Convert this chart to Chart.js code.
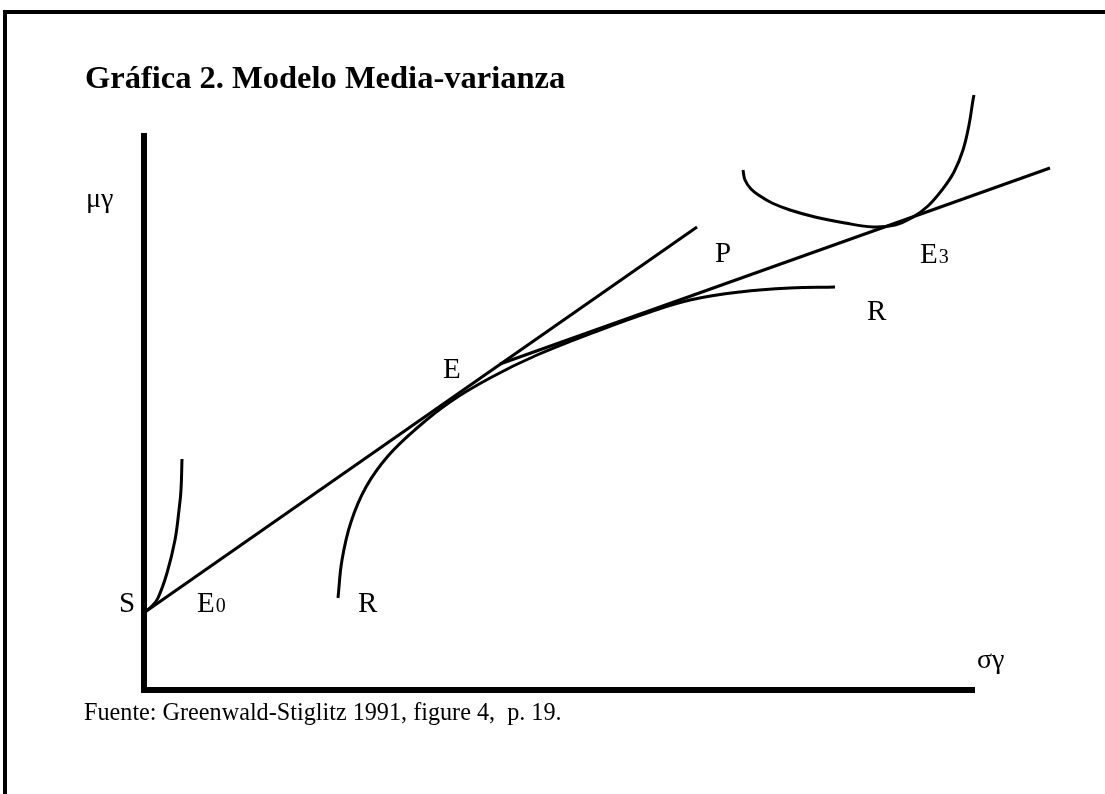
<!DOCTYPE html>
<html>
<head>
<meta charset="utf-8">
<title>Gráfica 2. Modelo Media-varianza</title>
<script src="https://cdn.jsdelivr.net/npm/chart.js@4.4.0/dist/chart.umd.min.js"></script>
<style>
  html, body { margin: 0; padding: 0; background: #fff; }
  body { width: 1105px; height: 794px; position: relative; overflow: hidden; }
  .frame { position: absolute; left: 3px; top: 10px; width: 1200px; height: 900px;
           border-left: 4px solid #000; border-top: 4px solid #000; }
  .title { position: absolute; left: 85px; top: 61px; color: #000; white-space: pre;
           font: bold 32.5px/32px "Liberation Serif", "Times New Roman", serif; }
  .source { position: absolute; left: 84px; top: 700px; color: #000; white-space: pre;
            font: 24.2px/23px "Liberation Serif", "Times New Roman", serif; }
  #wrap { position: absolute; left: 0; top: 0; width: 1105px; height: 794px; }
</style>
</head>
<body>
<div class="frame"></div>
<div id="wrap"><canvas id="chart" width="1105" height="794"></canvas></div>
<div class="title">Gráfica 2. Modelo Media-varianza</div>
<div class="source">Fuente: Greenwald-Stiglitz 1991, figure 4,  p. 19.</div>
<script>
// axes: sigma (x) and mu (y), in diagram units
var axisLine = [[0, 5.57], [0, 0], [8.31, 0]];

// straight lines: from S tangent at E, and the line through E3
var lineSP = [[0.01, 0.78], [5.53, 4.63]];
var lineE3 = [[3.56, 3.26], [9.06, 5.22]];

// curves
var curveE0 = [[0.01, 0.78], [0.08, 0.84], [0.14, 0.92], [0.23, 1.17], [0.31, 1.50],
               [0.35, 1.80], [0.37, 2.00], [0.38, 2.31]];
var curveR = [[1.94, 0.92], [1.98, 1.30], [2.07, 1.68], [2.22, 2.03], [2.44, 2.34],
              [2.73, 2.62], [3.06, 2.88], [3.46, 3.12], [3.93, 3.35], [4.56, 3.60],
              [5.06, 3.78], [5.46, 3.90], [5.96, 3.98], [6.46, 4.02], [6.91, 4.03]];
var curveE3 = [[5.99, 5.20], [6.01, 5.10], [6.07, 5.01], [6.16, 4.94], [6.28, 4.87],
               [6.46, 4.80], [6.71, 4.73], [7.01, 4.67], [7.29, 4.63], [7.51, 4.65],
               [7.69, 4.73], [7.84, 4.84], [7.98, 5.00], [8.10, 5.18], [8.19, 5.40],
               [8.25, 5.65], [8.29, 5.90], [8.30, 5.95]];

// point labels
var labelText = ['μγ', 'σγ', 'S', 'E', 'R', 'E', 'P', 'E', 'R'];
var labelSub  = ['', '', '', '0', '', '', '', '3', ''];
var labelAt   = [[-0.58, 4.83], [8.33, 0.22], [-0.25, 0.78], [0.53, 0.78], [2.14, 0.78],
                 [2.99, 3.12], [5.71, 4.28], [7.76, 4.27], [7.23, 3.70]];

function pts(a) {
    return a.map(function (p) { return { x: p[0], y: p[1] }; });
}

function line(data, width, smooth) {
    return {
        data: pts(data),
        showLine: true,
        borderColor: '#000',
        borderWidth: width,
        pointRadius: 0,
        fill: false,
        clip: false,
        tension: smooth ? 0.4 : 0,
        borderJoinStyle: smooth ? 'round' : 'miter',
        borderCapStyle: 'butt'
    };
}

var labelPlugin = {
    id: 'pointLabels',
    afterDatasetsDraw: function (chart) {
        var c = chart.ctx, sx = chart.scales.x, sy = chart.scales.y;
        c.save();
        c.fillStyle = '#000';
        c.textBaseline = 'alphabetic';
        c.textAlign = 'left';
        labelText.forEach(function (t, i) {
            var px = sx.getPixelForValue(labelAt[i][0]);
            var py = sy.getPixelForValue(labelAt[i][1]);
            var greek = /[μσ]/.test(t);
            c.font = (greek ? '28px' : '29px') + ' "Liberation Serif", "Times New Roman", serif';
            c.fillText(t, px, py);
            if (labelSub[i]) {
                var w = c.measureText(t).width;
                c.font = '20px "Liberation Serif", "Times New Roman", serif';
                c.fillText(labelSub[i], px + w + 1, py);
            }
        });
        c.restore();
    }
};

new Chart(document.getElementById('chart').getContext('2d'), {
    type: 'scatter',
    data: {
        datasets: [
            line(axisLine, 6, false),
            line(lineSP, 3, false),
            line(lineE3, 3, false),
            line(curveE0, 3, true),
            line(curveR, 3, true),
            line(curveE3, 3, true)
        ]
    },
    options: {
        responsive: false,
        animation: false,
        events: [],
        layout: { padding: { left: 144, right: 130, top: 133, bottom: 104 } },
        scales: {
            x: { type: 'linear', min: 0, max: 8.31, display: false },
            y: { type: 'linear', min: 0, max: 5.57, display: false }
        },
        plugins: { legend: { display: false }, tooltip: { enabled: false } }
    },
    plugins: [labelPlugin]
});
</script>
</body>
</html>
